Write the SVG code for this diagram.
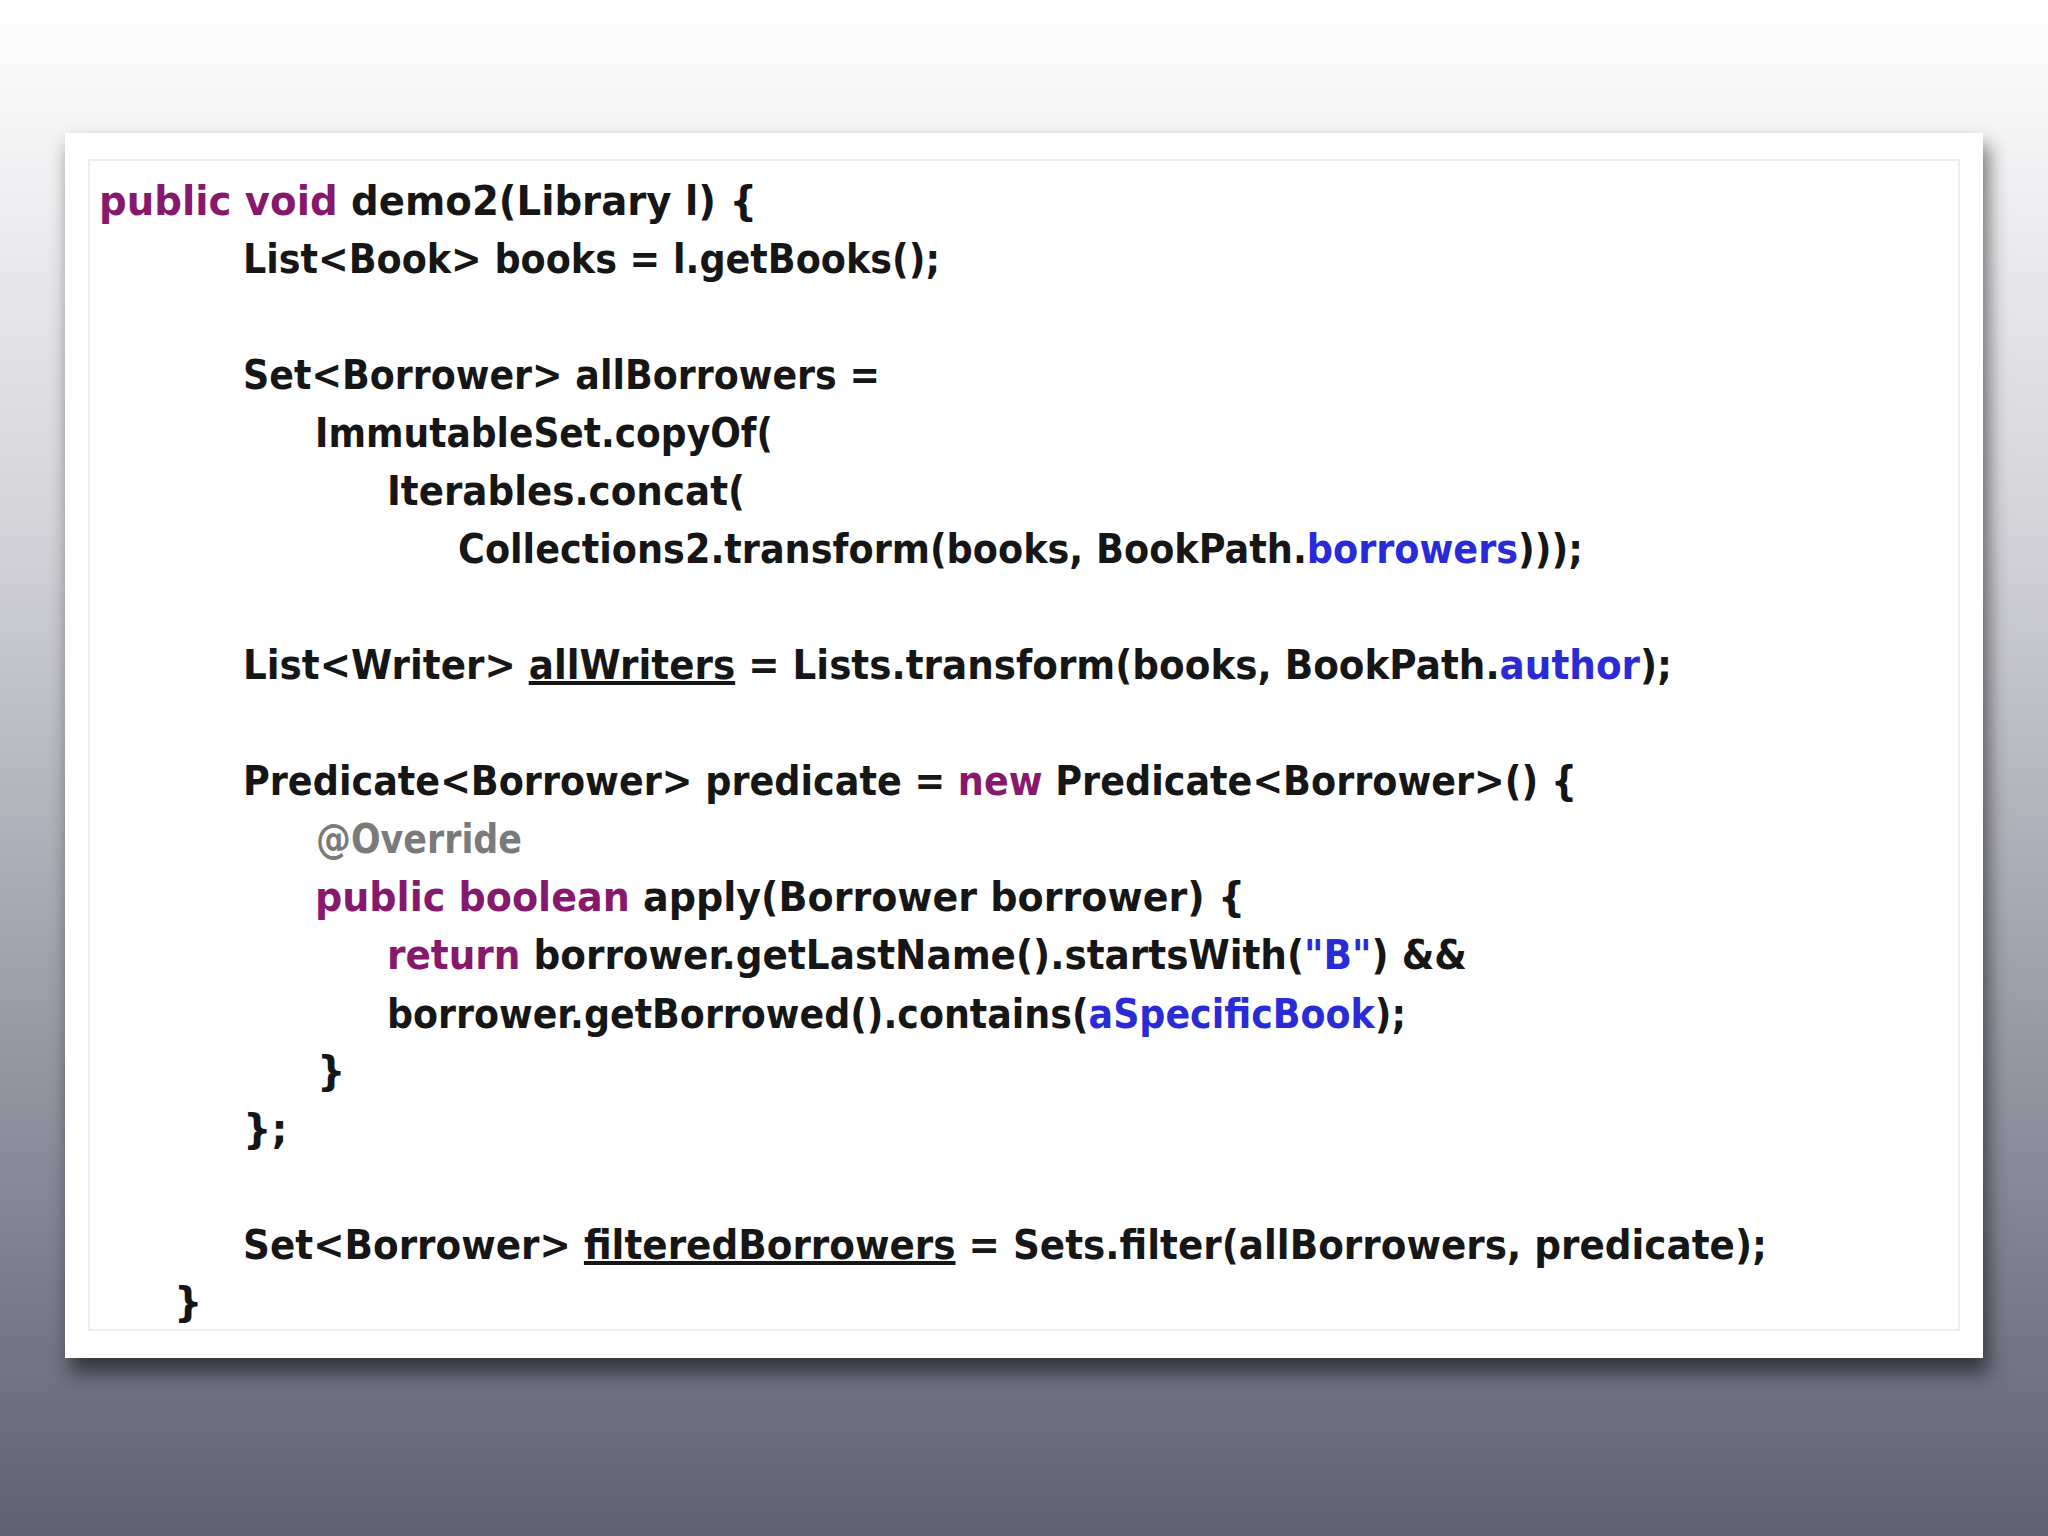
<svg xmlns="http://www.w3.org/2000/svg" width="2048" height="1536" viewBox="0 0 2048 1536">
<defs>
<linearGradient id="bg" x1="0" y1="0" x2="0" y2="1">
<stop offset="0" stop-color="#ffffff"/>
<stop offset="0.35" stop-color="#d2d2d8"/>
<stop offset="1" stop-color="#5f6072"/>
</linearGradient>
<filter id="sh" x="-5%" y="-5%" width="110%" height="115%"><feGaussianBlur stdDeviation="10"/></filter>
</defs>
<style>
text{font-family:"DejaVu Sans","Noto Sans",sans-serif;font-size:40px;fill:#161616;font-weight:600}
.k{fill:#86196e}.b{fill:#2a2ad6}.g{fill:#7a7a7a}.u{text-decoration:underline}
</style>
<rect width="2048" height="1536" fill="url(#bg)"/>
<rect x="70" y="145" width="1918" height="1228" fill="#000" opacity="0.55" filter="url(#sh)"/>
<rect x="65" y="133" width="1918" height="1225" fill="#fff"/>
<rect x="89" y="160" width="1870" height="1170" fill="none" stroke="#eeeeee" stroke-width="2"/>
<g id="code">
<text x="99" y="215" textLength="658" lengthAdjust="spacingAndGlyphs"><tspan class="k">public</tspan> <tspan class="k">void</tspan> demo2(Library l) {</text>
<text x="243" y="273" textLength="697" lengthAdjust="spacingAndGlyphs">List&lt;Book&gt; books = l.getBooks();</text>
<text x="243" y="389" textLength="637" lengthAdjust="spacingAndGlyphs">Set&lt;Borrower&gt; allBorrowers =</text>
<text x="315" y="447" textLength="458" lengthAdjust="spacingAndGlyphs">ImmutableSet.copyOf(</text>
<text x="387" y="505" textLength="358" lengthAdjust="spacingAndGlyphs">Iterables.concat(</text>
<text x="458" y="563" textLength="1125" lengthAdjust="spacingAndGlyphs">Collections2.transform(books, BookPath.<tspan class="b">borrowers</tspan>)));</text>
<text x="243" y="679" textLength="1429" lengthAdjust="spacingAndGlyphs">List&lt;Writer&gt; <tspan class="u">allWriters</tspan> = Lists.transform(books, BookPath.<tspan class="b">author</tspan>);</text>
<text x="243" y="795" textLength="1334" lengthAdjust="spacingAndGlyphs">Predicate&lt;Borrower&gt; predicate = <tspan class="k">new</tspan> Predicate&lt;Borrower&gt;() {</text>
<text x="316" y="853" textLength="206" lengthAdjust="spacingAndGlyphs" class="g">@Override</text>
<text x="315" y="911" textLength="930" lengthAdjust="spacingAndGlyphs"><tspan class="k">public</tspan> <tspan class="k">boolean</tspan> apply(Borrower borrower) {</text>
<text x="387" y="969" textLength="1080" lengthAdjust="spacingAndGlyphs"><tspan class="k">return</tspan> borrower.getLastName().startsWith(<tspan class="b">"B"</tspan>) &amp;&amp;</text>
<text x="387" y="1028" textLength="1019" lengthAdjust="spacingAndGlyphs">borrower.getBorrowed().contains(<tspan class="b">aSpecificBook</tspan>);</text>
<text x="317" y="1085">}</text>
<text x="243" y="1143">};</text>
<text x="243" y="1259" textLength="1524" lengthAdjust="spacingAndGlyphs">Set&lt;Borrower&gt; <tspan class="u">filteredBorrowers</tspan> = Sets.filter(allBorrowers, predicate);</text>
<text x="174" y="1316">}</text>
</g>
</svg>
